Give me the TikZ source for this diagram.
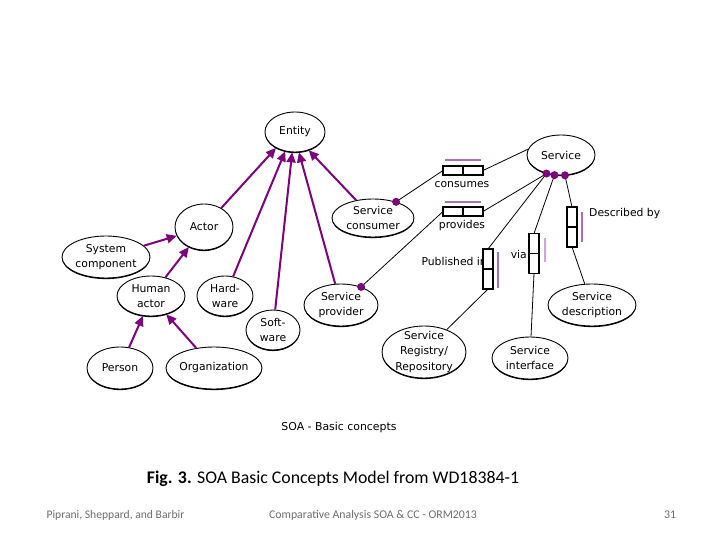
\documentclass[tikz,border=0pt]{standalone}
\usepackage{fontspec}
\setmainfont{Carlito}
\newfontfamily\djv{DejaVu Sans}
\usetikzlibrary{shapes.geometric,arrows.meta,shadows}
\definecolor{purp}{RGB}{125,0,125}
\definecolor{lpurp}{RGB}{170,110,180}
\definecolor{footgray}{RGB}{110,110,110}
\begin{document}
\begin{tikzpicture}[x=1pt,y=-1pt,
  ent/.style={ellipse,draw,fill=white,line width=0.9pt,inner sep=0pt,
    general shadow={fill=black,shadow yshift=-1.1pt}},
  txt/.style={font=\djv\fontsize{10.8}{15.5}\selectfont,align=center,inner sep=0pt},
  isa/.style={draw=purp,line width=2pt,-{Triangle[length=10pt,width=9pt]}},
  rel/.style={draw,line width=0.8pt},
  dotc/.style={circle,fill=purp,inner sep=0pt,minimum size=8pt},
  hbox/.style={draw,fill=white,line width=1.3pt,minimum width=40pt,minimum height=9pt,inner sep=0pt},
  vbox/.style={draw,fill=white,line width=1.3pt,minimum width=10pt,minimum height=40pt,inner sep=0pt},
  lbl/.style={font=\djv\fontsize{10.8}{12}\selectfont,inner sep=0pt},
  bar/.style={draw=lpurp,line width=2pt},
]
\useasboundingbox (0,0) rectangle (720,540);
\fill[white] (0,0) rectangle (720,540);

% entities
\node[ent,minimum width=60pt,minimum height=40pt,label={[txt]center:Entity}] (entity) at (295,132) {};
\node[ent,minimum width=68pt,minimum height=40pt,label={[txt]center:Service}] (serv) at (561,155) {};
\node[ent,minimum width=82pt,minimum height=38pt,label={[txt]center:Service\\consumer}] (sc) at (373,218) {};
\node[ent,minimum width=58pt,minimum height=46pt,label={[txt]center:Actor}] (actor) at (204,227) {};
\node[ent,minimum width=88pt,minimum height=42pt,label={[txt]center:System\\component}] (sys) at (106,257) {};
\node[ent,minimum width=68pt,minimum height=40pt,label={[txt]center:Human\\actor}] (human) at (151,296) {};
\node[ent,minimum width=56pt,minimum height=40pt,label={[txt]center:Hard-\\ware}] (hw) at (225,296) {};
\node[ent,minimum width=54pt,minimum height=40pt,label={[txt]center:Soft-\\ware}] (sw) at (273,330) {};
\node[ent,minimum width=74pt,minimum height=42pt,label={[txt]center:Service\\provider}] (sp) at (341,305) {};
\node[ent,minimum width=84pt,minimum height=52pt,label={[txt]center:Service\\Registry/\\Repository}] (reg) at (424,352) {};
\node[ent,minimum width=76pt,minimum height=42pt,label={[txt]center:Service\\interface}] (intf) at (530,358) {};
\node[ent,minimum width=88pt,minimum height=42pt,label={[txt]center:Service\\description}] (sdesc) at (592,305) {};
\node[ent,minimum width=66pt,minimum height=42pt,label={[txt]center:Person}] (person) at (120,368) {};
\node[ent,minimum width=96pt,minimum height=42pt,label={[txt]center:Organization}] (org) at (214,368) {};

% generalisation arrows
\draw[isa] (actor) -- (entity.220);
\draw[isa] (hw) -- (entity.243);
\draw[isa] (sw) -- (entity.262);
\draw[isa] (sp) -- (entity.281);
\draw[isa] (sc) -- (entity.307);
\draw[isa] (sys) -- (actor.198);
\draw[isa] (human) -- (actor.233);
\draw[isa] (person) -- (human.248);
\draw[isa] (org) -- (human.310);

% dot positions
\coordinate (dsc) at (sc.35);
\coordinate (dsp) at (sp.42);
\coordinate (ds1) at (serv.232);
\coordinate (ds2) at (serv.252);
\coordinate (ds3) at (serv.281);

% association labels (behind boxes)
\node[lbl,anchor=east] (lpub) at (487,261) {Published in};
\node[lbl,anchor=east] (lvia) at (527,254) {via};
\node[lbl] (lcons) at (462,185) {consumes};
\node[lbl] (lprov) at (462,226) {provides};
\node[lbl,anchor=west] (ldesc) at (589,214) {Described by};

% connectors
\draw[rel] (dsc) -- (443,170.5) coordinate (cw);
\coordinate (ce) at (483,170.5);
\draw[rel] (ce) -- (serv.170);
\draw[rel] (dsp) -- (443,211.5) coordinate (pw);
\coordinate (pe) at (483,211.5);
\draw[rel] (pe) -- (ds1);
\draw[rel] (ds1) -- (488,249) coordinate (pubn);
\coordinate (pubs) at (488,289);
\draw[rel] (pubs) -- (reg);
\draw[rel] (ds2) -- (534,233.5) coordinate (vian);
\coordinate (vias) at (534,273.5);
\draw[rel] (vias) -- (intf);
\draw[rel] (ds3) -- (572,207) coordinate (descn);
\coordinate (descs) at (572,247);
\draw[rel] (descs) -- (sdesc);

% boxes
\node[hbox] (cons) at (463,170.5) {};
\draw[line width=1.3pt] (cons.north) -- (cons.south);
\node[hbox] (prov) at (463,211.5) {};
\draw[line width=1.3pt] (prov.north) -- (prov.south);
\node[vbox] (pub) at (488,269) {};
\draw[line width=1.6pt] (pub.west) -- (pub.east);
\node[vbox] (via) at (534,253.5) {};
\draw[line width=1.3pt] (via.west) -- (via.east);
\node[vbox] (desc) at (572,227) {};
\draw[line width=1.3pt] (desc.west) -- (desc.east);

% role bars
\draw[bar] (445,160) -- (481,160);
\draw[bar] (445,202) -- (481,202);
\draw[bar] (498,252) -- (498,288);
\draw[bar,draw=lpurp!60] (545,238) -- (545,262);
\draw[bar] (582,212) -- (582,242);

% dots
\node[dotc] (dotsc) at (dsc) {};
\node[dotc] (dotsp) at (dsp) {};
\node[dotc] (dot1) at (ds1) {};
\node[dotc] (dot2) at (ds2) {};
\node[dotc] (dot3) at (ds3) {};

% captions
\node[font=\djv\fontsize{10.9}{12}\selectfont] (subcap) at (339,427) {SOA - Basic concepts};
\node[font=\fontsize{17.8}{21}\selectfont] (cap) at (333,479) {\textbf{Fig. 3.} SOA Basic Concepts Model from WD18384-1};
\node[font=\fontsize{11.6}{13}\selectfont,text=footgray,anchor=west] (f1) at (43,515) {Piprani, Sheppard, and Barbir};
\node[font=\fontsize{11.8}{13}\selectfont,text=footgray] (f2) at (373,515) {Comparative Analysis SOA \& CC - ORM2013};
\node[font=\fontsize{11.8}{13}\selectfont,text=footgray] (f3) at (670,515) {31};
\end{tikzpicture}
\end{document}
